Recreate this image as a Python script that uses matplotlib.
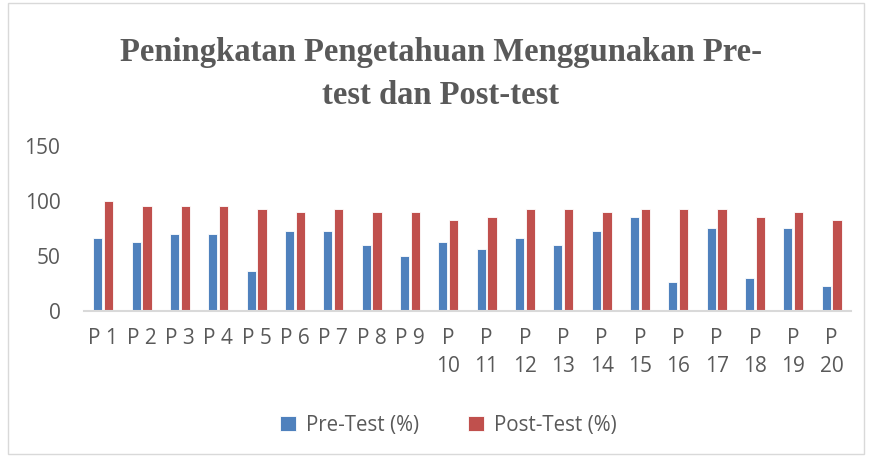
import numpy as np
import matplotlib.pyplot as plt
from matplotlib.patches import Rectangle

labels = ["P 1", "P 2", "P 3", "P 4", "P 5", "P 6", "P 7", "P 8", "P 9",
          "P\n10", "P\n11", "P\n12", "P\n13", "P\n14", "P\n15", "P\n16",
          "P\n17", "P\n18", "P\n19", "P\n20"]
pre_test = [66, 63, 70, 70, 36, 73, 73, 60, 50, 63, 56, 66, 60, 73, 86, 26, 76, 30, 76, 23]
post_test = [100, 96, 96, 96, 93, 90, 93, 90, 90, 83, 86, 93, 93, 90, 93, 93, 93, 86, 90, 83]

grey = "#595959"
blue = "#4f81bd"
red = "#c0504d"

fig = plt.figure(figsize=(8.69, 4.57), dpi=100)
ax = fig.add_axes([0.0967, 0.3195, 0.8823, 0.3605])

x = np.arange(len(labels))
w = 0.24
ax.bar(x - 0.14, pre_test, w, color=blue, edgecolor="white", linewidth=0.6, label="Pre-Test (%)")
ax.bar(x + 0.14, post_test, w, color=red, edgecolor="white", linewidth=0.6, label="Post-Test (%)")

ax.set_xlim(-0.5, len(labels) - 0.5)
ax.set_ylim(0, 150)
ax.set_yticks([0, 50, 100, 150])
ax.set_xticks(x)
ax.set_xticklabels(labels, linespacing=1.45)
ax.tick_params(axis="both", length=0, labelsize=15, labelcolor=grey)
ax.tick_params(axis="x", pad=12)
ax.tick_params(axis="y", pad=17)
for s in ["top", "right", "left"]:
    ax.spines[s].set_visible(False)
ax.spines["bottom"].set_color("#d9d9d9")
ax.spines["bottom"].set_linewidth(1.5)
for t in ax.get_xticklabels() + ax.get_yticklabels():
    t.set_family("Open Sans")

fig.text(0.507, 0.837, "Peningkatan Pengetahuan Menggunakan Pre-\ntest dan Post-test",
         ha="center", va="center", fontsize=23.5, fontweight="bold", color=grey,
         family="Liberation Serif", linespacing=1.5)

fig.legend(loc="center", bbox_to_anchor=(0.516, 0.07), ncol=2, frameon=False,
           prop={"family": "Open Sans", "size": 14.8}, labelcolor=grey,
           handlelength=0.75, handleheight=0.75, columnspacing=2.4, handletextpad=0.5)

fig.patches.append(Rectangle((0.009, 0.006), 0.985, 0.988, transform=fig.transFigure,
                             fill=False, edgecolor="#d9d9d9", linewidth=1))

fig.savefig("out.png", dpi=100)
